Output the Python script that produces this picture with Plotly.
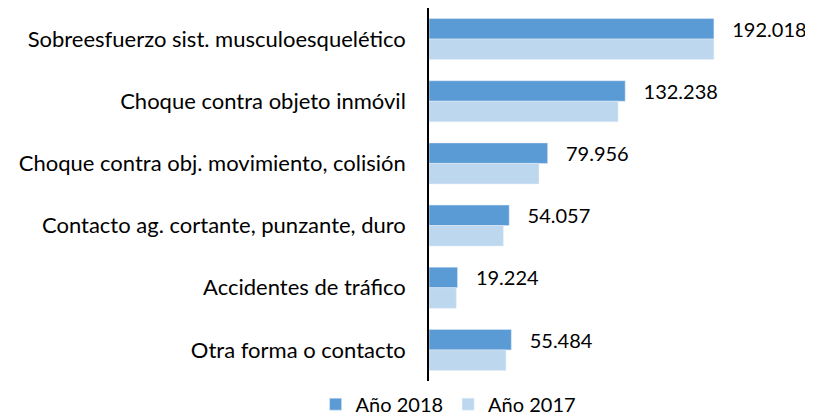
import plotly.graph_objects as go

categories = [
    "Sobreesfuerzo sist. musculoesquelético",
    "Choque contra objeto inmóvil",
    "Choque contra obj. movimiento, colisión",
    "Contacto ag. cortante, punzante, duro",
    "Accidentes de tráfico",
    "Otra forma o contacto",
]
values_2018 = [192018, 132238, 79956, 54057, 19224, 55484]
values_2017 = [192000, 127400, 74100, 50100, 18400, 51900]

FONT = "Lato"

fig = go.Figure()
fig.add_trace(go.Bar(
    y=categories, x=values_2018, orientation="h", name="Año 2018",
    marker=dict(color="#5B9BD5"),
    texttemplate="   %{x:,.0f}", textposition="outside", constraintext="none",
    textfont=dict(size=20, color="black", family=FONT),
    cliponaxis=False, legendrank=1,
))
fig.add_trace(go.Bar(
    y=categories, x=values_2017, orientation="h", name="Año 2017",
    marker=dict(color="#BDD7EE"), legendrank=2,
))

# page body has an 8px margin, so the figure is sized/offset to compensate
fig.update_layout(
    width=805, height=411,
    margin=dict(l=421, r=0, t=0, b=38, autoexpand=False),
    barmode="group", bargap=0.34, bargroupgap=0,
    separators=",.",
    paper_bgcolor="white", plot_bgcolor="white",
    font=dict(family=FONT, size=20, color="black"),
    showlegend=True,
    legend=dict(orientation="h", x=0.051, xanchor="center", y=-0.062, yanchor="middle",
                font=dict(size=20, family=FONT), itemwidth=30),
    xaxis=dict(range=[0, 258800], visible=False),
    yaxis=dict(autorange="reversed", showline=True, linecolor="black", linewidth=1.5,
               ticks="", ticklabelstandoff=17, showgrid=False, automargin=False,
               tickfont=dict(size=22, family=FONT)),
)

fig.write_html("out.html")
